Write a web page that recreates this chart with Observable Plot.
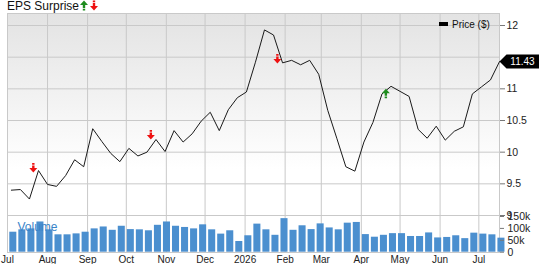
<!DOCTYPE html>
<html><head><meta charset="utf-8">
<script src="https://cdn.jsdelivr.net/npm/d3@7"></script>
<script src="https://cdn.jsdelivr.net/npm/@observablehq/plot@0.6"></script>
<style>
body{margin:0;background:#fff;font-family:"Liberation Sans",Arial,sans-serif;}
#wrap{position:relative;width:539px;height:264px;overflow:hidden;}
#wrap svg.layer{position:absolute;left:0;top:0;}
#title{position:absolute;left:7px;top:0px;font-size:12px;line-height:12px;color:#111;white-space:nowrap;}
#title svg{vertical-align:top;margin-top:0px;}
#legend{position:absolute;left:439px;top:20px;font-size:10px;line-height:10px;color:#111;white-space:nowrap;}
#legend .sw{display:inline-block;width:9px;height:4px;background:#000;margin-right:4px;vertical-align:top;margin-top:2px;}
</style></head><body>
<div id="wrap">
  <div id="title">EPS Surprise<svg width="10" height="11" viewBox="-5 -5.5 10 11"><path d="M0,-5L4,-0.5L1.2,-0.5L1.2,2.5L-1.2,2.5L-1.2,-0.5L-4,-0.5Z M-1.2,3.3L1.2,3.3L1.2,5L-1.2,5Z" fill="#1e8c1e"/></svg><svg width="10" height="11" viewBox="-5 -5.5 10 11"><path d="M0,5L4,0.5L1.2,0.5L1.2,-2.5L-1.2,-2.5L-1.2,0.5L-4,0.5Z M-1.2,-3.3L1.2,-3.3L1.2,-5L-1.2,-5Z" fill="#ee1111"/></svg></div>
  <div id="legend"><span class="sw"></span>Price ($)</div>
</div>
<script>
// ---- data ----
const weekStart = "2025-07-04"; // first weekly observation
const priceValues = [9.40, 9.41, 9.26, 9.71, 9.49, 9.46, 9.63, 9.88, 9.77, 10.37,
  10.17, 9.98, 9.85, 10.06, 9.94, 10.00, 10.20, 10.01, 10.34, 10.16,
  10.29, 10.49, 10.63, 10.34, 10.67, 10.86, 10.95, 11.42, 11.93, 11.85,
  11.41, 11.45, 11.38, 11.45, 11.23, 10.66, 10.22, 9.77, 9.70, 10.16,
  10.47, 10.92, 11.04, 10.96, 10.88, 10.36, 10.22, 10.41, 10.19, 10.33,
  10.40, 10.92, 11.03, 11.14, 11.43];
const volumeValues = [84, 94, 98, 127, 94, 73, 73, 77, 84, 98,
  106, 92, 109, 95, 94, 90, 113, 127, 109, 104,
  98, 115, 94, 76, 90, 45, 69, 118, 94, 71,
  141, 92, 111, 95, 119, 102, 94, 122, 125, 74,
  63, 71, 78, 78, 66, 66, 81, 60, 62, 69,
  57, 80, 76, 73, 59].map(v => v * 1000);
const surpriseDates = ["2025-07-21", "2025-10-20", "2026-01-26", "2026-04-20"];
const surpriseLevels = [9.75, 10.27, 11.47, 10.93];
const surpriseKinds = ["miss", "miss", "miss", "beat"];
const monthTickDates = ["2025-07-01","2025-08-01","2025-09-01","2025-10-01","2025-11-01","2025-12-01",
  "2026-01-01","2026-02-01","2026-03-01","2026-04-01","2026-05-01","2026-06-01","2026-07-01"];
const monthTickLabels = ["Jul","Aug","Sep","Oct","Nov","Dec","2026","Feb","Mar","Apr","May","Jun","Jul"];
const priceGridTicks = [9, 9.5, 10, 10.5, 11, 11.5, 12];
const priceLabelTicks = [9, 9.5, 10, 10.5, 11, 12];
const volumeTicks = [0, 50000, 100000, 150000];
const volumeTickLabels = ["0", "50k", "100k", "150k"];
const xDomain = ["2025-07-01", "2026-07-17"];

// ---- tables ----
const start = new Date(weekStart);
const weeks = priceValues.map((p, i) => d3.utcDay.offset(start, 7 * i));
const priceData = priceValues.map((p, i) => ({date: weeks[i], price: p}));
const volData = volumeValues.map((v, i) => ({
  x1: d3.utcDay.offset(weeks[i], -2), x2: d3.utcDay.offset(weeks[i], 5), vol: v}));
const surprises = surpriseDates.map((d, i) => ({date: new Date(d), level: surpriseLevels[i], kind: surpriseKinds[i]}));
const monthDates = monthTickDates.map(d => new Date(d));
const monthLabelMap = new Map(monthDates.map((d, i) => [+d, monthTickLabels[i]]));
const volLabelMap = new Map(volumeTicks.map((v, i) => [v, volumeTickLabels[i]]));
const last = priceData[priceData.length - 1];

const arrowDown = {draw(ctx) {
  ctx.moveTo(0, 4.5); ctx.lineTo(4, 0); ctx.lineTo(1.2, 0); ctx.lineTo(1.2, -2.5); ctx.lineTo(-1.2, -2.5);
  ctx.lineTo(-1.2, 0); ctx.lineTo(-4, 0); ctx.closePath();
  ctx.moveTo(-1.2, -3.3); ctx.lineTo(1.2, -3.3); ctx.lineTo(1.2, -5); ctx.lineTo(-1.2, -5); ctx.closePath();
}};
const arrowUp = {draw(ctx) {
  ctx.moveTo(0, -4.5); ctx.lineTo(4, 0); ctx.lineTo(1.2, 0); ctx.lineTo(1.2, 2.5); ctx.lineTo(-1.2, 2.5);
  ctx.lineTo(-1.2, 0); ctx.lineTo(-4, 0); ctx.closePath();
  ctx.moveTo(-1.2, 3.3); ctx.lineTo(1.2, 3.3); ctx.lineTo(1.2, 5); ctx.lineTo(-1.2, 5); ctx.closePath();
}};
const tag = {draw(ctx) {
  ctx.moveTo(0, 0); ctx.lineTo(7, -7); ctx.lineTo(40, -7); ctx.lineTo(40, 7); ctx.lineTo(7, 7); ctx.closePath();
}};

const common = {
  width: 539, height: 264, marginLeft: 7, marginRight: 40, marginTop: 13, marginBottom: 12,
};
const xScale = {type: "utc", domain: xDomain.map(d => new Date(d))};
const font = "'Liberation Sans', Arial, sans-serif";

const plotA = Plot.plot({
  ...common,
  x: {...xScale, label: null},
  y: {domain: [9, 12], range: [215, 25], label: null},
  style: {background: "#fff", fontFamily: font, fontSize: "10px", color: "#222", overflow: "visible"},
  marks: [
    Plot.frame({fill: "url(#bgGrad)", stroke: null}),
    Plot.gridX(monthDates, {stroke: "#c9c9c9", strokeOpacity: 1}),
    Plot.gridY(priceGridTicks, {stroke: "#c9c9c9", strokeOpacity: 1}),
    Plot.frame({stroke: "#c9c9c9"}),
    Plot.axisX(monthDates, {tickSize: 0, tickPadding: 3, tickFormat: d => monthLabelMap.get(+d), label: null, fontSize: 10}),
    Plot.axisY(priceLabelTicks, {anchor: "right", tickSize: 5, tickPadding: 2, stroke: "#777", tickFormat: d => String(d), label: null, fontSize: 10.5}),
    Plot.line(priceData, {x: "date", y: "price", stroke: "#1a1a1a", strokeWidth: 1}),
    Plot.dot(surprises, {filter: d => d.kind === "miss", x: "date", y: "level", symbol: arrowDown, fill: "#ee1111", stroke: null, r: 4}),
    Plot.dot(surprises, {filter: d => d.kind === "beat", x: "date", y: "level", symbol: arrowUp, fill: "#1e8c1e", stroke: null, r: 4}),
    Plot.dot([last], {x: "date", y: "price", symbol: tag, fill: "#000", stroke: null, r: 4}),
    Plot.text([last], {x: "date", y: "price", text: d => d.price.toFixed(2), dx: 23, fill: "#fff", fontSize: 10, textAnchor: "middle"})
  ]
});
plotA.classList.add("layer");
const defs = document.createElementNS("http://www.w3.org/2000/svg", "defs");
defs.innerHTML = '<linearGradient id="bgGrad" x1="0" y1="0" x2="0" y2="1"><stop offset="0" stop-color="#e3e3e3"/><stop offset="0.65" stop-color="#ffffff"/></linearGradient>';
plotA.insertBefore(defs, plotA.firstChild);

const plotB = Plot.plot({
  ...common,
  x: {...xScale, axis: null, label: null},
  y: {domain: [0, 150000], range: [251.7, 216], label: null},
  style: {background: "transparent", fontFamily: font, fontSize: "10px", color: "#222", overflow: "visible"},
  marks: [
    Plot.rectY(volData, {x1: "x1", x2: "x2", y: "vol", fill: "#4b8fcf", insetLeft: 1, insetRight: 1}),
    Plot.axisY(volumeTicks, {anchor: "right", tickSize: 4, tickPadding: 4, stroke: "#777", tickFormat: d => volLabelMap.get(d), label: null, fontSize: 10.5}),
    Plot.text(["Volume"], {frameAnchor: "bottom-left", dx: 10, dy: -25, lineAnchor: "middle", fill: "#3a84c9", fontSize: 12})
  ]
});
plotB.classList.add("layer");

const wrap = document.getElementById("wrap");
wrap.insertBefore(plotB, wrap.firstChild);
wrap.insertBefore(plotA, wrap.firstChild);
</script>
</body></html>
